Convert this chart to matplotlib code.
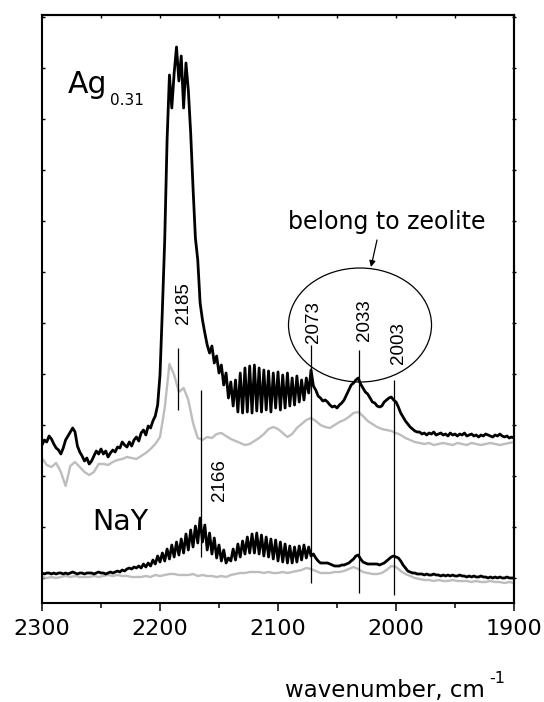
import numpy as np
import matplotlib
matplotlib.use("Agg")
import matplotlib.pyplot as plt
from matplotlib.patches import Ellipse
from matplotlib.ticker import MultipleLocator, NullFormatter

plt.rcParams['font.family'] = ['DejaVu Sans']

# ---------------- data (wavenumber grid: 2300 -> 1900) ----------------
# Ag0.31 sample, black (step 2 cm-1)
AG_BLACK = [
    133, 138, 136, 142, 139, 134, 130, 128, 124, 130,   # 2300-2282
    138, 142, 146, 150, 146, 132, 126, 122, 117, 120,   # 2280-2262
    114, 117, 122, 127, 124, 129, 124, 127, 121, 125,   # 2260-2242
    128, 126, 131, 130, 136, 133, 131, 136, 132, 138,   # 2240-2222
    141, 137, 145, 148, 143, 152, 150, 157, 162, 173,   # 2220-2202
    203, 268, 338, 438, 503, 470, 505, 531, 497, 522,   # 2200-2182
    470, 515, 488, 445, 390, 340, 318, 275, 258, 245,   # 2180-2162
    233, 225, 232, 215, 222, 205, 213, 193, 205, 180,   # 2160-2142
    196, 172, 198, 166, 205, 165, 210, 166, 212, 165,   # 2140-2122
    213, 167, 210, 166, 208, 168, 207, 166, 205, 170,   # 2120-2102
    206, 168, 203, 170, 205, 172, 200, 173, 202, 176,   # 2100-2082
    198, 178, 200, 185, 208, 192, 188, 182, 180, 177,   # 2080-2062
    178, 176, 173, 171, 172, 170, 173, 175, 178, 183,   # 2060-2042
    188, 193, 195, 198, 200, 194, 190, 186, 184, 180,   # 2040-2022
    176, 175, 172, 171, 172, 176, 178, 180, 181, 178,   # 2020-2002
    176, 171, 165, 161, 157, 154, 151, 149, 147, 146,   # 2000-1982
    146, 144, 145, 143, 145, 144, 146, 143, 144, 145,   # 1980-1962
    143, 144, 142, 145, 143, 144, 142, 144, 143, 145,   # 1960-1942
    142, 143, 144, 142, 143, 141, 143, 142, 144, 143,   # 1940-1922
    142, 141, 143, 142, 144, 142, 141, 142, 140, 141,   # 1920-1902
    140]

# Ag0.31 reference, grey (step 4 cm-1)
AG_GRAY = [
    120, 113, 111, 115, 106, 92, 112, 116, 111, 106,    # 2300-2264
    103, 106, 114, 114, 113, 116, 118, 119, 121, 120,   # 2260-2224
    119, 122, 125, 129, 134, 141, 170, 214, 203, 186,   # 2220-2184
    190, 178, 155, 140, 138, 141, 140, 144, 145, 142,   # 2180-2144
    139, 137, 135, 133, 134, 137, 140, 144, 149, 151,   # 2140-2104
    149, 145, 141, 144, 150, 154, 158, 160, 157, 153,   # 2100-2064
    151, 150, 153, 156, 158, 161, 165, 166, 162, 157,   # 2060-2024
    154, 151, 149, 148, 147, 145, 143, 140, 138, 136,   # 2020-1984
    135, 134, 135, 133, 134, 135, 134, 133, 135, 134,   # 1980-1944
    133, 135, 134, 133, 134, 135, 134, 133, 134, 135,   # 1940-1904
    136]

# NaY sample, black (step 2 cm-1)
NAY_BLACK = [
    5, 4, 5, 5, 4, 5, 4, 5, 5, 4,            # 2300-2282
    5, 4, 5, 6, 5, 4, 5, 5, 4, 5,            # 2280-2262
    5, 5, 4, 5, 6, 5, 5, 4, 5, 6,            # 2260-2242
    5, 6, 7, 6, 8, 7, 9, 10, 9, 11,          # 2240-2222
    10, 12, 10, 14, 11, 15, 12, 18, 14, 22,  # 2220-2202
    16, 25, 17, 29, 19, 33, 21, 36, 23, 39,  # 2200-2182
    25, 44, 28, 48, 31, 52, 35, 60, 36, 53,  # 2180-2162
    28, 45, 24, 40, 20, 33, 17, 28, 15, 20,  # 2160-2142
    17, 29, 18, 34, 21, 37, 24, 41, 25, 44,  # 2140-2122
    25, 45, 24, 43, 22, 41, 21, 39, 19, 38,  # 2120-2102
    17, 36, 16, 34, 15, 32, 15, 31, 16, 32,  # 2100-2082
    18, 33, 20, 31, 22, 24, 20, 17, 15, 15,  # 2080-2062
    15, 15, 14, 13, 12, 12, 12, 13, 13, 14,  # 2060-2042
    15, 17, 19, 22, 23, 19, 16, 15, 14, 14,  # 2040-2022
    14, 14, 14, 13, 14, 15, 17, 19, 21, 22,  # 2020-2002
    21, 20, 17, 13, 10, 7, 6, 5, 5, 4,       # 2000-1982
    4, 4, 3, 4, 3, 3, 4, 3, 3, 2,            # 1980-1962
    3, 2, 3, 2, 3, 2, 2, 3, 2, 2,            # 1960-1942
    1, 2, 1, 2, 1, 1, 2, 1, 1, 0,            # 1940-1922
    1, 0, 1, 0, 1, 0, 0, 1, 0, 0,            # 1920-1902
    0]

# NaY reference, grey (step 4 cm-1)
NAY_GRAY = [
    1, 0, 1, 0, 1, 2, 1, 2, 1, 1,            # 2300-2264
    1, 2, 1, 2, 3, 2, 3, 2, 2, 1,            # 2260-2224
    1, 1, 2, 1, 3, 2, 3, 4, 4, 3,            # 2220-2184
    3, 3, 4, 2, 3, 2, 2, 1, 2, 1,            # 2180-2144
    3, 4, 5, 5, 6, 6, 6, 5, 6, 5,            # 2140-2104
    5, 6, 5, 6, 7, 8, 10, 9, 7, 5,           # 2100-2064
    5, 5, 6, 6, 7, 9, 11, 9, 6, 5,           # 2060-2024
    4, 4, 5, 8, 12, 11, 7, 4, 2, 0,          # 2020-1984
    -1, -2, -2, -3, -2, -3, -3, -2, -3, -3,  # 1980-1944
    -3, -4, -3, -4, -4, -3, -4, -4, -5, -4,  # 1940-1904
    -5]

# peak markers
PEAK_LABELS = ["2185", "2166", "2073", "2033", "2003"]
PEAK_POS = [2184.7, 2165.5, 2072.3, 2031.4, 2001.7]
PEAK_LOW = [168, 21, -5, -15, -17]
PEAK_HIGH = [230, 188, 233, 228, 198]
LABEL_X = [2180.1, 2149.2, 2069.5, 2027.1, 1998.3]
LABEL_Y = [275, 98, 256, 258, 235]

X_TICKS = [2300, 2200, 2100, 2000, 1900]

# ---------------- figure ----------------
fig = plt.figure(figsize=(5.44, 7.02), dpi=100)
ax = fig.add_axes([42 / 544, 99 / 702, 472 / 544, 588 / 702])

x_black = 2300 - 2 * np.arange(len(AG_BLACK))
x_gray = 2300 - 4 * np.arange(len(AG_GRAY))
x_nay_black = 2300 - 2 * np.arange(len(NAY_BLACK))
x_nay_gray = 2300 - 4 * np.arange(len(NAY_GRAY))

grey = '#bdbdbd'
ax.plot(x_gray, AG_GRAY, color=grey, lw=1.7, zorder=2)
ax.plot(x_nay_gray, NAY_GRAY, color=grey, lw=1.7, zorder=2)
ax.plot(x_black, AG_BLACK, color='black', lw=2.0, zorder=3)
ax.plot(x_nay_black, NAY_BLACK, color='black', lw=2.0, zorder=3)

ax.vlines(PEAK_POS, PEAK_LOW, PEAK_HIGH, color='black', lw=0.9, zorder=4)
for lab, lx, ly in zip(PEAK_LABELS, LABEL_X, LABEL_Y):
    ax.text(lx, ly, lab, rotation=90, ha='center', va='center',
            fontsize=13.5, family=['Liberation Sans', 'DejaVu Sans'])

ell = Ellipse((2030.5, 253), width=121.2, height=114, fill=False,
              lw=0.9, color='black', zorder=4)
ax.add_patch(ell)
ax.text(2007.6, 349, "belong to zeolite", ha='center', va='baseline',
        fontsize=17)
ax.annotate('', xy=(2021.2, 311), xytext=(2016.1, 338),
            arrowprops=dict(arrowstyle='-|>', lw=0.9, color='black',
                            mutation_scale=9, shrinkA=0, shrinkB=0))

ax.text(2278, 485, "Ag", ha='left', va='baseline', fontsize=21.5)
ax.text(2242.4, 473, "0.31", ha='left', va='baseline', fontsize=11)
ax.text(2257.6, 48, "NaY", ha='left', va='baseline', fontsize=20.5)

ax.set_xlim(2300, 1900)
ax.set_ylim(-25, 563)

ax.set_xticks(X_TICKS)
ax.set_xticklabels([str(t) for t in X_TICKS])
ax.xaxis.set_minor_locator(MultipleLocator(50))
ax.tick_params(axis='x', which='major', direction='out', length=5.8,
               width=1.1, labelsize=16, pad=6, top=False)
ax.tick_params(axis='x', which='minor', direction='out', length=3.5,
               width=1.1, top=False)
ax.yaxis.set_major_locator(MultipleLocator(51))
ax.tick_params(axis='y', which='both', direction='in', length=2.5,
               width=1.0, labelleft=False, right=False)

for sp in ax.spines.values():
    sp.set_linewidth(1.5)

secx = ax.secondary_xaxis('top')
secx.set_xticks(list(range(1900, 2301, 50)))
secx.xaxis.set_major_formatter(NullFormatter())
secx.tick_params(direction='in', length=2.5, width=1.0)
secx.spines['top'].set_linewidth(1.5)

secy = ax.secondary_yaxis('right')
secy.set_yticks(list(range(0, 563, 51)))
secy.yaxis.set_major_formatter(NullFormatter())
secy.tick_params(direction='inout', length=3.5, width=1.0)
secy.spines['right'].set_linewidth(1.5)

# x-axis title with superscript unit exponent
xlab = fig.text(385 / 544, 5 / 702, 'wavenumber, cm', ha='center',
                va='baseline', fontsize=16.5)
ax.annotate('-1', xy=(1, 1), xycoords=xlab, xytext=(3, -3),
            textcoords='offset points', ha='left', va='baseline',
            fontsize=11.5, annotation_clip=False)

fig.savefig('out.png', dpi=100)
